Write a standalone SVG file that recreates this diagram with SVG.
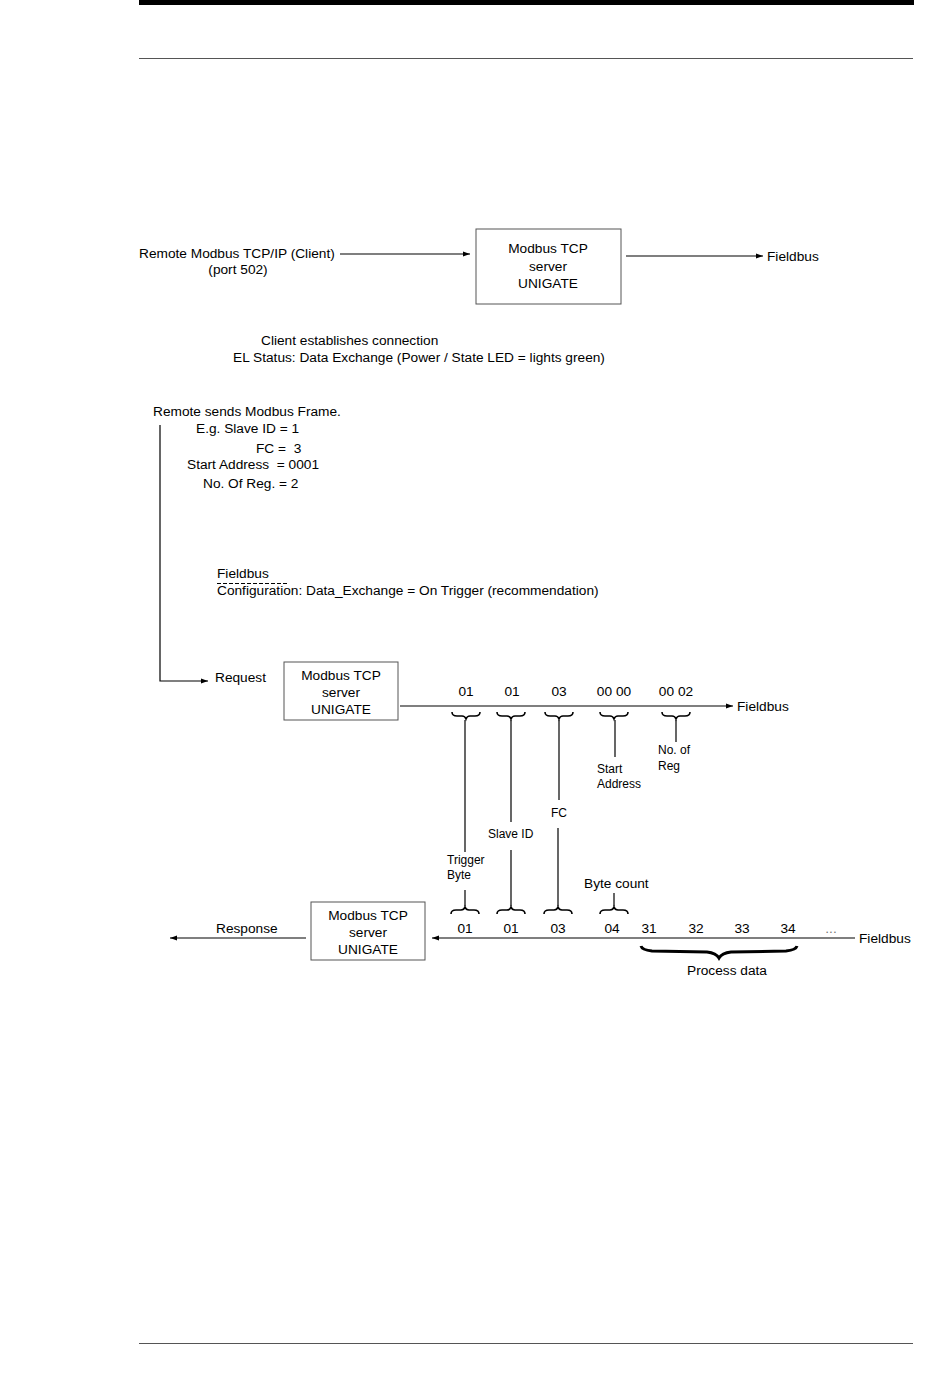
<svg xmlns="http://www.w3.org/2000/svg" width="950" height="1398" viewBox="0 0 950 1398">
<style>
text{font-family:"Liberation Sans",Arial,sans-serif;font-size:13.7px;fill:#000;white-space:pre}
.s{font-size:12px}
.c{text-anchor:middle}
.ln{stroke:#000;stroke-width:1.2;fill:none}
.box{fill:#fff;stroke:#555;stroke-width:1}
.br{fill:none;stroke:#000;stroke-width:1.6}
</style>
<defs>
<marker id="ah" markerWidth="8" markerHeight="6" refX="7" refY="3" orient="auto" markerUnits="userSpaceOnUse">
<path d="M0,0.5 L7,3 L0,5.5 Z" fill="#000"/>
</marker>
<path id="bd" d="M-14,-3 Q-14,1 -9,1 L-4,1 Q-1,1 0,4 Q1,1 4,1 L9,1 Q14,1 14,-3"/>
<path id="bu" d="M-14,3 Q-14,-1 -9,-1 L-4,-1 Q-1,-1 0,-4 Q1,-1 4,-1 L9,-1 Q14,-1 14,3"/>
</defs>
<rect x="139" y="0" width="775" height="5" fill="#000"/>
<line x1="139" y1="58.5" x2="913" y2="58.5" stroke="#555" stroke-width="1"/>
<line x1="139" y1="1343.5" x2="913" y2="1343.5" stroke="#555" stroke-width="1"/>

<g id="client">
<text x="139" y="258">Remote Modbus TCP/IP (Client)</text>
<text x="238" y="274" class="c">(port 502)</text>
</g>
<g id="server1">
<rect class="box" x="476" y="229" width="145" height="75"/>
<text x="548" y="253" class="c">Modbus TCP</text>
<text x="548" y="271" class="c">server</text>
<text x="548" y="288" class="c">UNIGATE</text>
</g>
<g id="fieldbus1"><text x="767" y="261">Fieldbus</text></g>
<g id="status">
<text x="261" y="345">Client establishes connection</text>
<text x="233" y="362">EL Status: Data Exchange (Power / State LED = lights green)</text>
</g>
<g id="frame">
<text x="153" y="416">Remote sends Modbus Frame.</text>
<text x="196" y="433">E.g. Slave ID = 1</text>
<text x="256" y="453" xml:space="preserve">FC =  3</text>
<text x="187" y="469" xml:space="preserve">Start Address  = 0001</text>
<text x="203" y="488">No. Of Reg. = 2</text>
<text x="217" y="578">Fieldbus</text>
<line x1="217" y1="583.5" x2="289" y2="583.5" stroke="#000" stroke-width="1" stroke-dasharray="4,2"/>
<text x="217" y="595">Configuration: Data_Exchange = On Trigger (recommendation)</text>
</g>
<g id="request"><text x="215" y="682">Request</text></g>
<g id="server2">
<rect class="box" x="284" y="662" width="114" height="58"/>
<text x="341" y="680" class="c">Modbus TCP</text>
<text x="341" y="697" class="c">server</text>
<text x="341" y="714" class="c">UNIGATE</text>
</g>
<g id="fieldbus2"><text x="737" y="711">Fieldbus</text></g>
<g id="reqbytes">
<text x="466" y="696" class="c">01</text>
<text x="512" y="696" class="c">01</text>
<text x="559" y="696" class="c">03</text>
<text x="614" y="696" class="c">00 00</text>
<text x="676" y="696" class="c">00 02</text>
<use href="#bd" x="466" y="715" class="br"/>
<use href="#bd" x="511" y="715" class="br"/>
<use href="#bd" x="559" y="715" class="br"/>
<use href="#bd" x="614" y="715" class="br"/>
<use href="#bd" x="676" y="715" class="br"/>
</g>
<g id="labels">
<text x="597" y="773" class="s">Start</text>
<text x="597" y="788" class="s">Address</text>
<text x="658" y="754" class="s">No. of</text>
<text x="658" y="770" class="s">Reg</text>
<text x="551" y="817" class="s">FC</text>
<text x="488" y="838" class="s">Slave ID</text>
<text x="447" y="864" class="s">Trigger</text>
<text x="447" y="879" class="s">Byte</text>
<text x="584" y="888">Byte count</text>
</g>
<g id="server3">
<rect class="box" x="311" y="902" width="114" height="58"/>
<text x="368" y="920" class="c">Modbus TCP</text>
<text x="368" y="937" class="c">server</text>
<text x="368" y="954" class="c">UNIGATE</text>
</g>
<g id="response"><text x="216" y="933">Response</text></g>
<g id="fieldbus3"><text x="859" y="943">Fieldbus</text></g>
<g id="respbytes">
<text x="465" y="933" class="c">01</text>
<text x="511" y="933" class="c">01</text>
<text x="558" y="933" class="c">03</text>
<text x="612" y="933" class="c">04</text>
<text x="649" y="933" class="c">31</text>
<text x="696" y="933" class="c">32</text>
<text x="742" y="933" class="c">33</text>
<text x="788" y="933" class="c">34</text>
<text x="831" y="933" class="c" style="fill:#777">...</text>
<use href="#bu" x="465" y="911" class="br"/>
<use href="#bu" x="511" y="911" class="br"/>
<use href="#bu" x="558" y="911" class="br"/>
<use href="#bu" x="614" y="911" class="br"/>
<path d="M641,946 Q642,950 652,951 L707,952 Q716,953 719,958 Q722,953 731,952 L786,951 Q796,950 797,946" fill="none" stroke="#000" stroke-width="3"/>
<text x="727" y="975" class="c">Process data</text>
</g>
<g id="connectors">
<line class="ln" x1="340" y1="254" x2="470" y2="254" marker-end="url(#ah)"/>
<line class="ln" x1="626" y1="256" x2="763" y2="256" marker-end="url(#ah)"/>
<polyline class="ln" points="160,425 160,681 208,681" marker-end="url(#ah)"/>
<line class="ln" x1="400" y1="706" x2="733" y2="706" marker-end="url(#ah)"/>
<line class="ln" x1="465" y1="720" x2="465" y2="852"/>
<line class="ln" x1="511" y1="720" x2="511" y2="822"/>
<line class="ln" x1="559" y1="720" x2="559" y2="800"/>
<line class="ln" x1="615" y1="720" x2="615" y2="757"/>
<line class="ln" x1="676" y1="720" x2="676" y2="742"/>
<line class="ln" x1="465" y1="890" x2="465" y2="906"/>
<line class="ln" x1="511" y1="850" x2="511" y2="906"/>
<line class="ln" x1="558" y1="828" x2="558" y2="906"/>
<line class="ln" x1="614" y1="893" x2="614" y2="906"/>
<line class="ln" x1="855" y1="938" x2="432" y2="938" marker-end="url(#ah)"/>
<line class="ln" x1="306" y1="938" x2="170" y2="938" marker-end="url(#ah)"/>
</g>
</svg>
